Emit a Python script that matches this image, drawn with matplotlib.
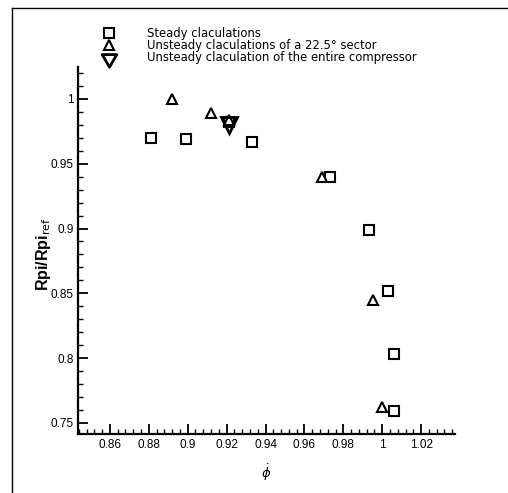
import matplotlib
matplotlib.use("Agg")
import matplotlib.pyplot as plt
from matplotlib.ticker import MultipleLocator
from matplotlib.lines import Line2D
from matplotlib.path import Path

plt.rcParams['font.family'] = ['Liberation Sans', 'DejaVu Sans']

# steady calculations
steady_phi = [0.881, 0.899, 0.921, 0.933, 0.973, 0.993, 1.003, 1.006, 1.006]
steady_rpi = [0.970, 0.969, 0.982, 0.967, 0.940, 0.899, 0.852, 0.803, 0.759]

# unsteady, 22.5 deg sector
sector_phi = [0.892, 0.912, 0.921, 0.969, 0.995, 1.000]
sector_rpi = [1.000, 0.989, 0.984, 0.940, 0.845, 0.762]

# unsteady, entire compressor
full_phi = [0.921]
full_rpi = [0.980]

fig = plt.figure(figsize=(5.08, 4.93), dpi=100)
ax = fig.add_axes([78/508, 1-434/493, (455-78)/508, (434-67)/493])

ax.plot(steady_phi, steady_rpi, 's', ms=6.5, mfc='white', mec='black', mew=1.5)
ax.plot(sector_phi, sector_rpi, '^', ms=6.5, mfc='white', mec='black', mew=1.5)
ax.plot(full_phi, full_rpi, 'v', ms=11.5, mfc='none', mec='black', mew=2)

ax.set_xlim(0.8436, 1.0374)
ax.set_ylim(0.7415, 1.0246)
ax.xaxis.set_minor_locator(MultipleLocator(0.004))
ax.yaxis.set_minor_locator(MultipleLocator(0.01))
ax.set_xticks([0.86, 0.88, 0.9, 0.92, 0.94, 0.96, 0.98, 1.0, 1.02])
ax.set_xticklabels(['0.86', '0.88', '0.9', '0.92', '0.94', '0.96', '0.98', '1', '1.02'])
ax.set_yticks([0.75, 0.8, 0.85, 0.9, 0.95, 1.0])
ax.set_yticklabels(['0.75', '0.8', '0.85', '0.9', '0.95', '1'])

for s in ['top', 'right']:
    ax.spines[s].set_visible(False)
for s in ['left', 'bottom']:
    ax.spines[s].set_linewidth(1.6)
ax.tick_params(which='major', direction='in', length=7, width=1.3, labelsize=8.5)
ax.tick_params(axis='y', which='major', pad=3)
ax.tick_params(which='minor', direction='in', length=3.5, width=1)

ax.set_xlabel(r'$\dot{\phi}$', fontsize=9.5, labelpad=8)
ax.set_ylabel(r'Rpi/Rpi$_{\rm ref}$', fontsize=11.5, fontweight='bold')
ax.yaxis.set_label_coords(-0.066, 0.49)

# legend's big triangle sits a bit below its text row
tri_down = Path([(-7.5, 3), (7.5, 3), (0, -10), (-7.5, 3)],
                [Path.MOVETO, Path.LINETO, Path.LINETO, Path.CLOSEPOLY])
handles = [
    Line2D([], [], ls='none', marker='s', ms=6.5, mfc='white', mec='black', mew=1.5),
    Line2D([], [], ls='none', marker='^', ms=6.5, mfc='white', mec='black', mew=1.5),
    Line2D([], [], ls='none', marker=tri_down, ms=14, mfc='none', mec='black', mew=2),
]
labels = ['Steady claculations',
          'Unsteady claculations of a 22.5\u00b0 sector',
          'Unsteady claculation of the entire compressor']
fig.legend(handles, labels, loc='upper left', bbox_to_anchor=(96/508, 1-22/493),
           frameon=False, prop={'family': 'DejaVu Sans', 'size': 8.4},
           handletextpad=2.45, labelspacing=-0.05, borderaxespad=0, handlelength=1.5)

# outer frame (left and top only)
fig.add_artist(Line2D([12/508, 12/508], [0, 1-8/493], color='black', lw=1))
fig.add_artist(Line2D([12/508, 1], [1-8/493, 1-8/493], color='black', lw=1))

fig.savefig('out.png', dpi=100)
